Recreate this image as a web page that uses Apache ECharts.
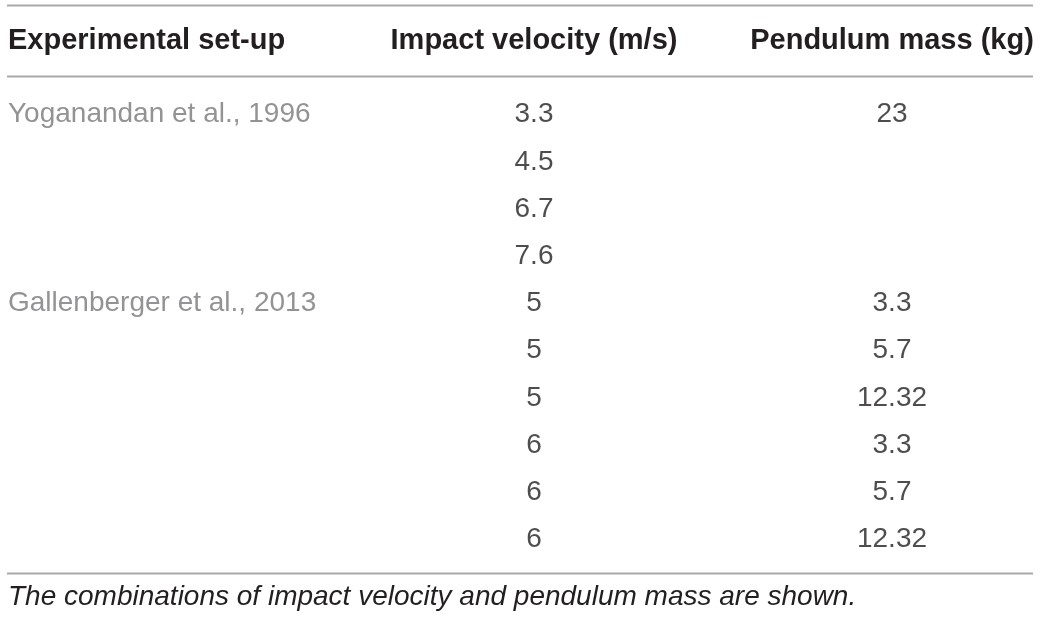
<!DOCTYPE html>
<html lang="en">
<head>
    <meta charset="UTF-8">
    <title>index</title>
    <script src="https://cdn.jsdelivr.net/npm/echarts@6/dist/echarts.min.js"></script>
    <style>
        html, body { margin: 0; padding: 0; background: #fff; }
        #main { width: 1040px; height: 622px; }
    </style>
</head>
<body>
<div id="main"></div>
<script>
    // table content
    var headers = ['Experimental set-up', 'Impact velocity (m/s)', 'Pendulum mass (kg)'];
    var setups = ['Yoganandan et al., 1996', '', '', '', 'Gallenberger et al., 2013', '', '', '', '', ''];
    var velocity = [3.3, 4.5, 6.7, 7.6, 5, 5, 5, 6, 6, 6];
    var mass = [23, null, null, null, 3.3, 5.7, 12.32, 3.3, 5.7, 12.32];
    var caption = 'The combinations of impact velocity and pendulum mass are shown.';

    var rows = velocity.map(function (v, i) { return 'r' + i; });

    // column anchors (px on the 0..1040 x axis)
    var colX = [8, 534, 892];
    var font = '"Liberation Sans", Arial, sans-serif';

    function cells(values, x) {
        var out = [];
        values.forEach(function (v, i) {
            if (v === null || v === '') return;
            out.push({ value: [x, rows[i]], text: String(v) });
        });
        return out;
    }

    function cellSeries(values, x, align, color) {
        return {
            type: 'scatter',
            symbolSize: 0,
            silent: true,
            data: cells(values, x),
            label: {
                show: true,
                position: 'inside',
                align: align,
                verticalAlign: 'middle',
                color: color,
                fontFamily: font,
                fontSize: 28,
                formatter: function (p) { return p.data.text; }
            }
        };
    }

    var my_Chart = echarts.init(document.getElementById('main'));

    var ruleStyle = { stroke: '#a9a9a9', lineWidth: 2 };
    var headFont = 'bold 29px ' + font;

    var option = {
        animation: false,
        grid: { left: 0, right: 0, top: 91, bottom: 59 },
        xAxis: { type: 'value', min: 0, max: 1040, show: false },
        yAxis: { type: 'category', data: rows, inverse: true, show: false },
        graphic: [
            // rules
            { type: 'line', shape: { x1: 7, y1: 5.5, x2: 1033, y2: 5.5 }, style: ruleStyle },
            { type: 'line', shape: { x1: 7, y1: 76.5, x2: 1033, y2: 76.5 }, style: ruleStyle },
            { type: 'line', shape: { x1: 7, y1: 573.5, x2: 1033, y2: 573.5 }, style: ruleStyle },
            // header
            {
                type: 'text', x: colX[0], y: 40.5,
                style: { text: headers[0], font: headFont, fill: '#231f20', align: 'left', verticalAlign: 'middle' }
            },
            {
                type: 'text', x: colX[1], y: 40.5,
                style: { text: headers[1], font: headFont, fill: '#231f20', align: 'center', verticalAlign: 'middle' }
            },
            {
                type: 'text', x: colX[2], y: 40.5,
                style: { text: headers[2], font: headFont, fill: '#231f20', align: 'center', verticalAlign: 'middle' }
            },
            // caption
            {
                type: 'text', x: colX[0], y: 597,
                style: { text: caption, font: 'italic 28px ' + font, fill: '#231f20', verticalAlign: 'middle' }
            }
        ],
        series: [
            cellSeries(setups, colX[0], 'left', '#77787b'),
            cellSeries(velocity, colX[1], 'center', '#231f20'),
            cellSeries(mass, colX[2], 'center', '#231f20')
        ]
    };
    my_Chart.setOption(option);
</script>
</body>
</html>
